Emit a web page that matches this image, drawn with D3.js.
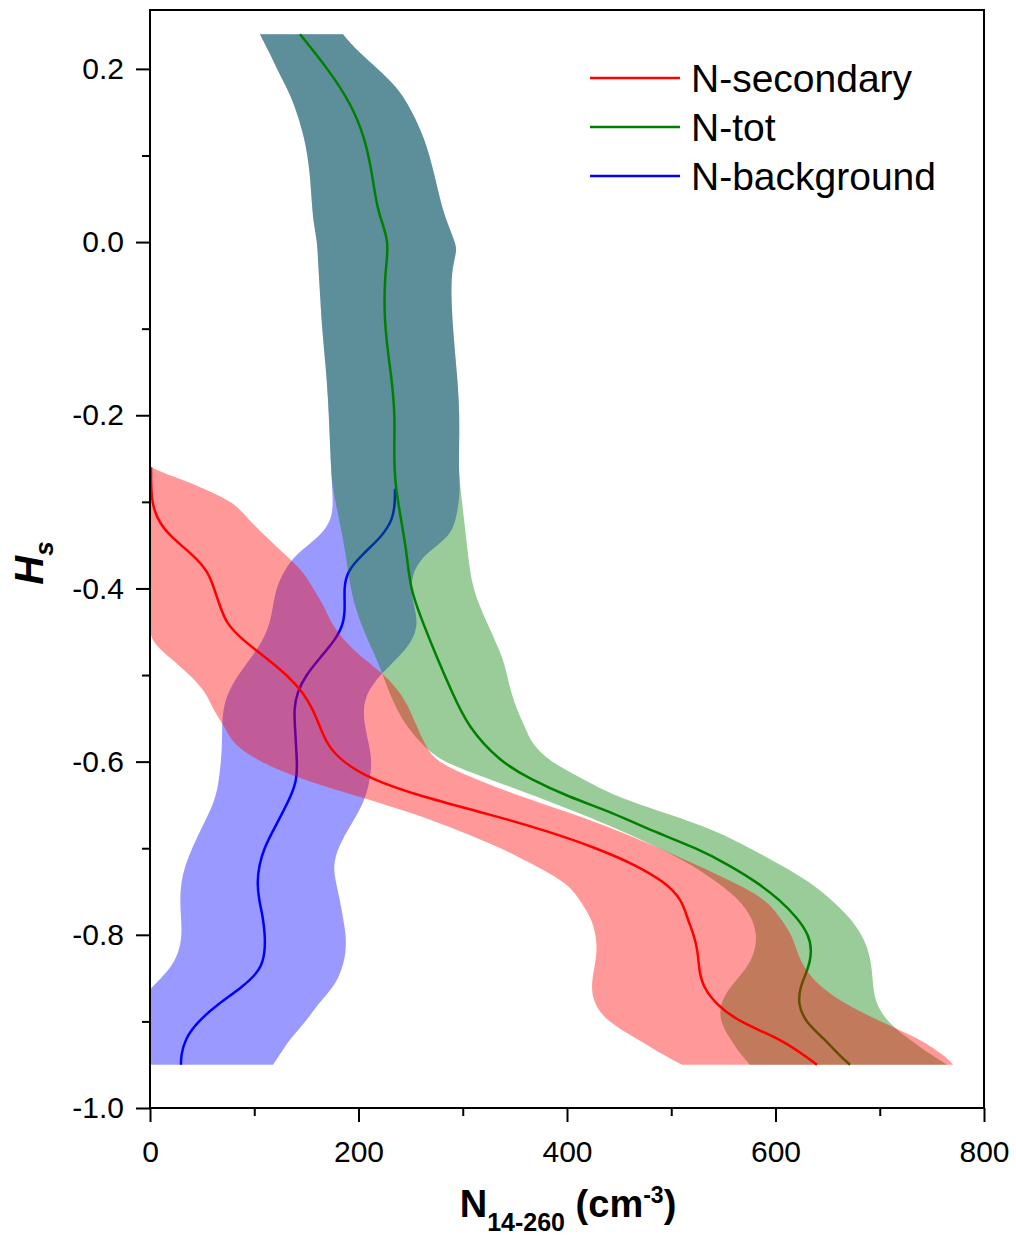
<!DOCTYPE html>
<html>
<head>
<meta charset="utf-8">
<script src="https://cdn.jsdelivr.net/npm/d3@7"></script>
<style>
  body { margin: 0; background: #fff; }
  text { font-family: "Liberation Sans", Arial, sans-serif; }
</style>
</head>
<body>
<svg id="chart" width="1016" height="1236"></svg>
<script>
// Bands: [Hs, low, high] in cm-3
const totBand = [
  [0.24, 105.5, 185.1], [0.22, 114.1, 199.5], [0.20, 121.8, 218.7], [0.18, 130.5, 236.0],
  [0.16, 138.1, 247.5], [0.12, 148.7, 263.8], [0.08, 153.5, 272.4], [0.04, 155.4, 280.0],
  [0.02, 157.3, 285.9], [0.00, 160.2, 292.6], [-0.01, 160.7, 294.5], [-0.03, 161.6, 289.7],
  [-0.06, 163.1, 288.7], [-0.10, 165.0, 290.6], [-0.14, 168.3, 293.5], [-0.18, 170.8, 296.4],
  [-0.22, 172.2, 296.9], [-0.26, 173.6, 296.0], [-0.28, 174.6, 297.4], [-0.32, 181.3, 301.2],
  [-0.36, 188.0, 305.0], [-0.40, 191.8, 308.9], [-0.44, 201.4, 323.3], [-0.48, 216.8, 338.6],
  [-0.50, 223.5, 342.4], [-0.52, 229.3, 346.3], [-0.54, 236.9, 352.0], [-0.56, 246.5, 359.7],
  [-0.58, 260.9, 366.4], [-0.60, 279.1, 383.7], [-0.62, 325.2, 415.3], [-0.64, 370.3, 446.0],
  [-0.66, 412.5, 495.9], [-0.68, 452.7, 543.9], [-0.70, 489.2, 575.5], [-0.72, 520.8, 606.2],
  [-0.74, 544.8, 634.0], [-0.76, 565.9, 654.2], [-0.78, 577.4, 671.4], [-0.80, 582.2, 683.0],
  [-0.82, 580.3, 689.7], [-0.84, 571.7, 692.6], [-0.86, 556.3, 693.5], [-0.88, 546.7, 696.4],
  [-0.90, 546.7, 707.0], [-0.92, 556.3, 727.1], [-0.94, 567.8, 751.1], [-0.95, 575.5, 764.5]
];

// below -0.28 the background band leaves the total band
const backgroundBandLower = [
  [-0.30, 175.5, 296.4], [-0.32, 174.6, 293.5], [-0.34, 163.1, 287.8], [-0.36, 140.0, 263.8],
  [-0.38, 128.5, 252.3], [-0.40, 120.9, 250.3], [-0.42, 118.0, 253.2], [-0.44, 115.1, 257.1],
  [-0.46, 108.4, 252.3], [-0.48, 96.9, 237.9], [-0.50, 84.4, 220.6], [-0.52, 74.8, 208.1],
  [-0.54, 70.0, 204.3], [-0.56, 69.1, 206.2], [-0.58, 69.1, 210.1], [-0.60, 68.1, 212.9],
  [-0.62, 66.2, 211.0], [-0.64, 63.3, 207.2], [-0.66, 56.6, 199.5], [-0.68, 48.0, 189.0],
  [-0.70, 40.3, 180.3], [-0.72, 33.6, 175.5], [-0.74, 29.7, 178.4], [-0.76, 28.8, 182.2],
  [-0.78, 29.7, 185.1], [-0.80, 30.7, 188.0], [-0.82, 27.8, 188.0], [-0.84, 19.2, 184.2],
  [-0.86, 1.9, 176.5], [-0.88, -12, 161.1], [-0.90, -20, 149.6], [-0.92, -25, 134.3],
  [-0.94, -28, 123.7], [-0.95, -30, 118.0]
];

const secondaryBand = [
  [-0.26, 0, 1], [-0.27, 0, 20], [-0.28, 0, 43], [-0.30, 0, 80.6], [-0.32, 0, 94.0],
  [-0.34, 0, 111.3], [-0.36, 0, 128.5], [-0.38, 0, 146.8], [-0.40, 0, 156.4], [-0.42, 0, 166.9],
  [-0.44, 0, 173.6], [-0.46, 0, 186.1], [-0.48, 19.2, 203.4], [-0.50, 38.4, 225.4],
  [-0.52, 53.7, 239.8], [-0.54, 60.4, 249.4], [-0.56, 71.9, 256.1], [-0.58, 79.6, 263.8],
  [-0.60, 104.6, 273.4], [-0.62, 143.9, 311.7], [-0.64, 199.5, 354.9], [-0.66, 253.2, 404.8],
  [-0.68, 297.4, 449.9], [-0.70, 337.6, 489.2], [-0.72, 369.3, 525.6], [-0.74, 400.0, 561.1],
  [-0.76, 412.5, 591.8], [-0.78, 423.0, 604.3], [-0.80, 427.8, 615.8], [-0.82, 428.8, 620.6],
  [-0.84, 425.9, 628.3], [-0.86, 423.0, 642.7], [-0.88, 425.9, 666.7], [-0.90, 438.4, 700.2],
  [-0.92, 467.1, 738.6], [-0.94, 494.0, 762.6], [-0.95, 510.3, 770.3]
];

// Lines: [Hs, N]
const totLine = [
  [0.24, 143.9], [0.20, 170.7], [0.16, 192.8], [0.12, 206.2], [0.08, 212.9], [0.04, 217.7],
  [0.02, 223.5], [0.00, 228.3], [-0.02, 227.3], [-0.04, 225.4], [-0.08, 224.5], [-0.12, 227.3],
  [-0.16, 232.1], [-0.20, 235.0], [-0.24, 234.0], [-0.28, 235.0], [-0.32, 240.8], [-0.36, 246.5],
  [-0.40, 249.4], [-0.44, 261.9], [-0.48, 275.3], [-0.52, 289.7], [-0.56, 305.0], [-0.60, 335.7],
  [-0.62, 364.5], [-0.64, 400.0], [-0.66, 446.0], [-0.68, 481.5], [-0.70, 524.7], [-0.72, 556.3],
  [-0.74, 583.2], [-0.76, 604.3], [-0.78, 620.6], [-0.80, 632.1], [-0.82, 635.0], [-0.84, 631.2],
  [-0.86, 623.5], [-0.88, 621.6], [-0.90, 628.3], [-0.92, 646.5], [-0.94, 661.9], [-0.95, 671.5]
];

const backgroundLine = [
  [-0.285, 235.0], [-0.30, 235.0], [-0.32, 233.1], [-0.34, 222.5], [-0.36, 204.3], [-0.38, 189.0],
  [-0.40, 186.1], [-0.42, 187.0], [-0.44, 186.1], [-0.46, 177.5], [-0.48, 163.1], [-0.50, 149.6],
  [-0.52, 141.0], [-0.54, 138.1], [-0.56, 139.1], [-0.58, 140.0], [-0.60, 141.0], [-0.62, 141.0],
  [-0.64, 135.2], [-0.66, 126.6], [-0.68, 118.0], [-0.70, 109.4], [-0.72, 104.6], [-0.74, 102.7],
  [-0.76, 104.6], [-0.78, 108.4], [-0.80, 110.3], [-0.82, 110.3], [-0.84, 106.5], [-0.86, 89.2],
  [-0.88, 65.2], [-0.90, 46.0], [-0.92, 33.6], [-0.94, 29.7], [-0.95, 29.7]
];

const secondaryLine = [
  [-0.26, 1.0], [-0.28, 1.0], [-0.30, 1.9], [-0.32, 6.7], [-0.34, 19.2], [-0.36, 40.3],
  [-0.38, 55.6], [-0.40, 61.4], [-0.42, 67.1], [-0.44, 72.9], [-0.46, 89.2], [-0.48, 111.3],
  [-0.50, 131.4], [-0.52, 146.8], [-0.54, 156.4], [-0.56, 163.1], [-0.58, 169.8], [-0.60, 184.2],
  [-0.62, 211.0], [-0.64, 259.0], [-0.66, 323.3], [-0.68, 380.8], [-0.70, 428.8], [-0.72, 467.1],
  [-0.74, 494.9], [-0.76, 510.3], [-0.78, 515.1], [-0.80, 521.8], [-0.82, 525.6], [-0.84, 526.6],
  [-0.86, 530.4], [-0.88, 542.9], [-0.90, 564.0], [-0.92, 604.3], [-0.94, 628.3], [-0.95, 639.8]
];

const legendLabels = ['N-secondary', 'N-tot', 'N-background'];
const xMajor = [0, 200, 400, 600, 800];
const xMinor = [100, 300, 500, 700];
const yMajor = [0.2, 0.0, -0.2, -0.4, -0.6, -0.8, -1.0];
const yMinor = [0.1, -0.1, -0.3, -0.5, -0.7, -0.9];

// the background band equals the total band where there is no secondary part
const backgroundBand = totBand.filter(d => d[0] >= -0.28).concat(backgroundBandLower);

const svg = d3.select('#chart');
const plotLeft = 150, plotRight = 984, plotTop = 10, plotBottom = 1108;

const x = d3.scaleLinear().domain([0, 800]).range([plotLeft, plotRight]);
const y = d3.scaleLinear().domain([-1.0, 0.268]).range([plotBottom, plotTop]);

svg.append('defs').append('clipPath').attr('id', 'plot-clip')
  .append('rect')
  .attr('x', plotLeft).attr('y', plotTop)
  .attr('width', plotRight - plotLeft).attr('height', plotBottom - plotTop);

const area = d3.area()
  .curve(d3.curveBasis)
  .y(d => y(d[0]))
  .x0(d => x(d[1]))
  .x1(d => x(d[2]));

const line = d3.line()
  .curve(d3.curveBasis)
  .y(d => y(d[0]))
  .x(d => x(d[1]));

const plot = svg.append('g').attr('clip-path', 'url(#plot-clip)');

// drawing order: background, total, secondary
const layers = [
  { band: backgroundBand, line: backgroundLine, colour: '#0000ff' },
  { band: totBand, line: totLine, colour: '#008000' },
  { band: secondaryBand, line: secondaryLine, colour: '#ff0000' }
];

layers.forEach(l => {
  plot.append('path')
    .attr('d', area(l.band))
    .attr('fill', l.colour)
    .attr('fill-opacity', 0.4);
  plot.append('path')
    .attr('d', line(l.line))
    .attr('fill', 'none')
    .attr('stroke', l.colour)
    .attr('stroke-width', 2.5);
});

// Axes
svg.append('g')
  .attr('transform', `translate(${plotLeft},0)`)
  .call(d3.axisLeft(y).tickValues(yMajor).tickSize(14).tickPadding(12).tickSizeOuter(0)
    .tickFormat(d => d.toFixed(1)));
svg.append('g')
  .attr('transform', `translate(${plotLeft},0)`)
  .call(d3.axisLeft(y).tickValues(yMinor).tickSize(8).tickSizeOuter(0).tickFormat(''));

svg.append('g')
  .attr('transform', `translate(0,${plotBottom})`)
  .call(d3.axisBottom(x).tickValues(xMajor).tickSize(14).tickPadding(19).tickSizeOuter(0)
    .tickFormat(d3.format('d')));
svg.append('g')
  .attr('transform', `translate(0,${plotBottom})`)
  .call(d3.axisBottom(x).tickValues(xMinor).tickSize(8).tickSizeOuter(0).tickFormat(''));

svg.selectAll('.domain').remove();
svg.selectAll('.tick line').attr('stroke', '#000').attr('stroke-width', 2);
svg.selectAll('.tick text')
  .attr('fill', '#000')
  .style('font-size', '30px')
  .style('font-family', '"Liberation Sans", Arial, sans-serif');

svg.append('rect')
  .attr('x', plotLeft).attr('y', plotTop)
  .attr('width', plotRight - plotLeft).attr('height', plotBottom - plotTop)
  .attr('fill', 'none')
  .attr('stroke', '#000')
  .attr('stroke-width', 2);

// Axis titles
const yTitle = svg.append('text')
  .attr('transform', `translate(43,${(plotTop + plotBottom) / 2 + 4}) rotate(-90)`)
  .attr('text-anchor', 'middle')
  .style('font-weight', 'bold')
  .style('font-style', 'italic')
  .style('font-size', '40px');
yTitle.append('tspan').text('H');
yTitle.append('tspan').attr('dy', 10).style('font-size', '26px').text('s');

const xTitle = svg.append('text')
  .attr('x', 568).attr('y', 1217)
  .attr('text-anchor', 'middle')
  .style('font-weight', 'bold')
  .style('font-size', '38px');
xTitle.append('tspan').text('N');
xTitle.append('tspan').attr('dy', 14).style('font-size', '25px').text('14-260');
xTitle.append('tspan').attr('dy', -14).text(' (cm');
xTitle.append('tspan').attr('dy', -14).style('font-size', '23px').text('-3');
xTitle.append('tspan').attr('dy', 14).text(')');

// Legend
const legendColours = ['#ff0000', '#008000', '#0000ff'];
const legend = svg.append('g');
legendLabels.forEach((label, i) => {
  const ly = 78 + i * 49;
  legend.append('line')
    .attr('x1', 590).attr('x2', 680)
    .attr('y1', ly).attr('y2', ly)
    .attr('stroke', legendColours[i])
    .attr('stroke-width', 2.5);
  legend.append('text')
    .attr('x', 691).attr('y', ly + 14)
    .style('font-size', '39px')
    .text(label);
});
</script>
</body>
</html>
